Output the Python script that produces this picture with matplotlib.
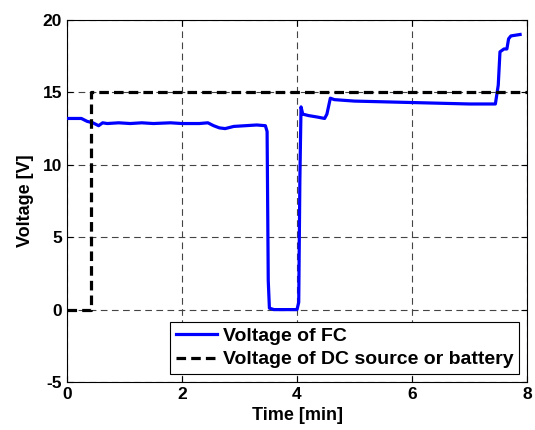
import matplotlib
matplotlib.use("Agg")
import matplotlib.pyplot as plt

# fuel cell voltage
fc_time = [0.0, 0.25, 0.35, 0.45, 0.55, 0.62, 0.7, 0.9, 1.1, 1.3, 1.5, 1.8, 2.0, 2.3, 2.45,
           2.55, 2.65, 2.75, 2.9, 3.1, 3.3, 3.45, 3.48, 3.50, 3.52, 3.6, 3.8, 4.0, 4.03, 4.05,
           4.07, 4.1, 4.2, 4.35, 4.48, 4.52, 4.58, 4.65, 5.0, 5.5, 6.0, 6.5, 7.0, 7.45, 7.5,
           7.53, 7.6, 7.65, 7.68, 7.72, 7.8, 7.88]
fc_volt = [13.2, 13.2, 13.0, 12.9, 12.7, 12.9, 12.85, 12.9, 12.85, 12.9, 12.85, 12.9, 12.85,
           12.85, 12.9, 12.7, 12.55, 12.5, 12.65, 12.7, 12.75, 12.7, 12.3, 2.0, 0.1, 0.0, 0.0,
           0.0, 0.5, 9.0, 14.0, 13.5, 13.4, 13.3, 13.2, 13.5, 14.6, 14.5, 14.4, 14.35, 14.3,
           14.25, 14.2, 14.2, 15.5, 17.8, 18.0, 18.0, 18.7, 18.9, 18.95, 19.0]

# DC source / battery voltage
dc_time = [0.0, 0.41, 0.41, 8.0]
dc_volt = [0.0, 0.0, 15.0, 15.0]

x_ticks = [0, 2, 4, 6, 8]
y_ticks = [-5, 0, 5, 10, 15, 20]

plt.rcParams['font.family'] = ['Liberation Sans', 'DejaVu Sans']
plt.rcParams['font.weight'] = 'bold'
plt.rcParams['axes.unicode_minus'] = False

fig = plt.figure(figsize=(5.35, 4.3), dpi=100)
ax = fig.add_axes([67 / 535, 1 - 382 / 430, 460 / 535, 362 / 430])

ax.plot(fc_time, fc_volt, color='#0000ff', linewidth=2.3, label='Voltage of FC', zorder=3)
ax.plot(dc_time, dc_volt, color='black', linewidth=2.3, linestyle=(0, (3, 1.6)),
        label='Voltage of DC source or battery', zorder=3)

ax.set_xlim(0, 8)
ax.set_ylim(-5, 20)
ax.set_xticks(x_ticks)
ax.set_yticks(y_ticks)
ax.grid(True, color='#444444', linestyle=(0, (6, 4)), linewidth=0.8)
ax.tick_params(direction='in', top=True, right=True, labelsize=12.5, length=4)
for lbl in ax.get_xticklabels() + ax.get_yticklabels():
    lbl.set_fontweight('bold')

ax.set_xlabel('Time [min]', fontsize=13, fontweight='bold', labelpad=4)
ax.set_ylabel('Voltage [V]', fontsize=13, fontweight='bold', labelpad=6)

leg = ax.legend(loc='lower right', fontsize=14, frameon=True, fancybox=False,
                edgecolor='black', framealpha=1, handlelength=2.1, borderpad=0.3,
                labelspacing=0.3, handletextpad=0.3, borderaxespad=0.4)
leg.get_frame().set_linewidth(0.8)
for t in leg.get_texts():
    t.set_fontweight('bold')

fig.savefig('out.png', dpi=100)
